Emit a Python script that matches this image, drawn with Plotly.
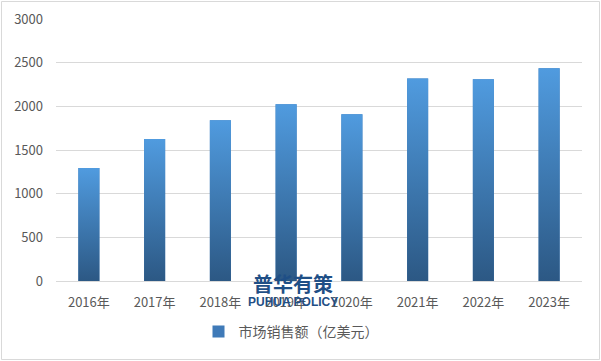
import plotly.graph_objects as go

years = ["2016年", "2017年", "2018年", "2019年", "2020年", "2021年", "2022年", "2023年"]
sales = [1294, 1626, 1840, 2025, 1910, 2320, 2310, 2435]
series_name = "市场销售额（亿美元）"

bar_width = 0.32
bottom_color = "#2c5884"
top_color = "#509bdf"
font_family = "Noto Sans CJK SC, Microsoft YaHei, sans-serif"

fig = go.Figure()
fig.add_trace(go.Bar(
    x=list(range(len(years))), y=sales, name=series_name,
    width=bar_width, marker=dict(color="#3f7ab8", line=dict(width=0)),
    showlegend=True,
))
for i, v in enumerate(sales):
    x0, x1 = i - bar_width / 2, i + bar_width / 2
    fig.add_trace(go.Scatter(
        x=[x0, x1, x1, x0, x0], y=[0, 0, v, v, 0],
        mode="lines", line=dict(width=0), fill="toself",
        fillgradient=dict(type="vertical", start=0, stop=v,
                          colorscale=[[0, bottom_color], [1, top_color]]),
        showlegend=False, hoverinfo="skip",
    ))

fig.update_layout(
    width=601, height=361,
    margin=dict(l=56, r=19, t=19, b=80, autoexpand=False),
    paper_bgcolor="white", plot_bgcolor="white",
    font=dict(family=font_family, size=13, color="#595959"),
    showlegend=True,
    legend=dict(orientation="h", x=(319 - 28 - 56) / 526, xanchor="center", yref="container",
                y=(361 - 332) / 361, yanchor="middle",
                font=dict(size=14, color="#595959"), itemwidth=30),
    xaxis=dict(
        tickmode="array", tickvals=list(range(len(years))), ticktext=years,
        range=[-0.5, len(years) - 0.5], showgrid=False, zeroline=False,
        showline=True, linecolor="#d9d9d9", linewidth=1, ticks="",
        ticklabelstandoff=9, automargin=False,
    ),
    yaxis=dict(
        range=[0, 3000], dtick=500, showgrid=True, gridcolor="#d9d9d9", gridwidth=1,
        zeroline=False, showline=False, ticks="", ticklabelstandoff=12, automargin=False,
    ),
    shapes=[dict(type="rect", xref="paper", yref="paper",
                 x0=-54.5 / 526, x1=1 + 17.5 / 526, y0=-78.5 / 262, y1=1 + 17.5 / 262,
                 line=dict(color="#d9d9d9", width=1), fillcolor="rgba(0,0,0,0)", layer="below")],
    annotations=[
        dict(text="<b>普华有策</b>", x=(293 - 56) / 526, y=(281 - 283) / 262, xref="paper", yref="paper",
             showarrow=False, font=dict(family=font_family, size=20, color="#1f4f86"),
             xanchor="center", yanchor="middle"),
        dict(text="<b>PUHUA POLICY</b>", x=(293 - 56) / 526, y=(281 - 302) / 262, xref="paper", yref="paper",
             showarrow=False, font=dict(family="Liberation Sans Narrow, Liberation Sans, Arial, sans-serif",
                                        size=12, color="#1f4f86"),
             xanchor="center", yanchor="middle"),
    ],
)

fig.write_html("out.html", config={"displayModeBar": False},
               post_script="document.body.style.margin='0px';")
